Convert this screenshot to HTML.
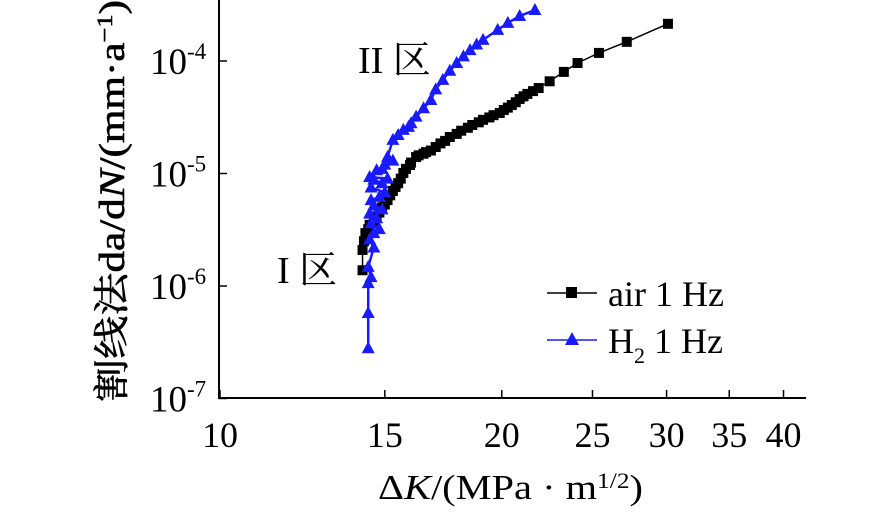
<!DOCTYPE html>
<html><head><meta charset="utf-8"><style>
html,body{margin:0;padding:0;background:#fff;}
svg text{font-family:"Liberation Serif","Noto Serif CJK SC",serif;}
</style></head><body>
<svg id="chart" width="886" height="507" viewBox="0 0 886 507" xmlns="http://www.w3.org/2000/svg">
<g id="axes"></g><g id="series"></g>
<g>
 <line x1="547" y1="293" x2="597" y2="293" stroke="#000" stroke-width="1.5"/>
 <rect x="566" y="287" width="11" height="11" fill="#000"/>
 <text x="608" y="306" font-size="36">air 1 Hz</text>
 <line x1="547" y1="340" x2="597" y2="340" stroke="#1a1aff" stroke-width="1.5"/>
 <polygon points="572,332 579,345 565,345" fill="#1a1aff"/>
 <text x="608" y="353" font-size="36">H<tspan font-size="22" dy="10">2</tspan><tspan dy="-10"> 1 Hz</tspan></text>
</g>
<text x="358" y="73" font-size="38">II 区</text>
<text x="277" y="283" font-size="38">I 区</text>
<text transform="translate(124,402) rotate(-90)" font-size="36" stroke="#000" stroke-width="0.6" textLength="402" lengthAdjust="spacingAndGlyphs">割线法da/d<tspan font-style="italic">N</tspan>/(mm·a<tspan font-size="22" dy="-12">−1</tspan><tspan dy="12">)</tspan></text>
<text x="378" y="499" font-size="35" textLength="265" lengthAdjust="spacingAndGlyphs">Δ<tspan font-style="italic">K</tspan>/(MPa · m<tspan font-size="22" dy="-11">1/2</tspan><tspan dy="11">)</tspan></text>
</svg>
<script>
const xTicks=[10,15,20,25,30,35,40];
const yTicks=[-7,-6,-5,-4];
const airK=[30.1,27.2,25.4,24.1,23.3,22.5,21.9,21.6,21.3,21.1,20.9,20.7,20.5,20.3,20.1,19.9,19.6,19.4,19.1,18.9,18.6,18.4,18.1,17.9,17.6,17.4,17.2,17.0,16.8,16.6,16.5,16.3,16.2,16.0,15.96,15.8,15.7,15.6,15.5,15.4,15.3,15.2,15.1,15.0,14.9,14.8,14.7,14.6,14.45,14.4,14.3,14.25,14.2,14.2];
const airRate=[2.14e-4,1.48e-4,1.18e-4,9.6e-5,8.0e-5,6.6e-5,5.75e-5,5.4e-5,5.1e-5,4.85e-5,4.6e-5,4.3e-5,4.06e-5,3.85e-5,3.67e-5,3.45e-5,3.3e-5,3.15e-5,3.0e-5,2.85e-5,2.7e-5,2.55e-5,2.4e-5,2.25e-5,2.11e-5,1.95e-5,1.85e-5,1.72e-5,1.6e-5,1.55e-5,1.5e-5,1.45e-5,1.4e-5,1.25e-5,1.19e-5,1.1e-5,1.01e-5,9.0e-6,8.2e-6,7.6e-6,7.0e-6,6.4e-6,5.8e-6,5.3e-6,5.0e-6,4.5e-6,4.1e-6,3.8e-6,3.5e-6,3.2e-6,2.95e-6,2.5e-6,2.09e-6,1.38e-6];
const h2K=[21.7,20.9,20.3,19.8,19.1,18.8,18.5,18.2,17.9,17.6,17.3,17.0,16.8,16.5,16.2,16.0,15.9,15.7,15.5,15.3,15.1,15.3,15.0,14.9,14.7,14.45,15.1,14.9,14.6,14.5,15.0,14.8,14.5,14.6,14.9,14.45,14.7,14.5,14.8,14.6,14.45,14.6,14.4,14.5,14.4,14.4,14.4];
const h2Rate=[2.84e-4,2.51e-4,2.18e-4,1.89e-4,1.54e-4,1.4e-4,1.25e-4,1.1e-4,9.6e-5,8.2e-5,6.8e-5,5.6e-5,4.5e-5,3.8e-5,3.2e-5,2.8e-5,2.6e-5,2.44e-5,2.2e-5,1.99e-5,1.4e-5,1.3e-5,1.2e-5,1.1e-5,1.07e-5,9.3e-6,9e-6,8.2e-6,8.8e-6,7.5e-6,6.8e-6,6.2e-6,5.8e-6,5.2e-6,4.8e-6,4.4e-6,4.0e-6,3.6e-6,3.2e-6,2.95e-6,2.6e-6,2.2e-6,1.48e-6,1.2e-6,1.06e-6,5.75e-7,2.8e-7];
const NS='http://www.w3.org/2000/svg';
const X0=220,XPD=936,Y0=61,YPD=112.5;
function sx(v){return X0+(Math.log10(v)-1)*XPD;}
function sy(v){return Y0-(Math.log10(v)+4)*YPD;}
function mk(tag,attrs,parent){const e=document.createElementNS(NS,tag);for(const k in attrs)e.setAttribute(k,attrs[k]);parent.appendChild(e);return e;}
const axes=document.getElementById('axes'),series=document.getElementById('series');
let a=mk('line',{x1:219,y1:0,x2:219,y2:398.5,stroke:'#000','stroke-width':2},axes);


a=mk('line',{x1:218,y1:398,x2:806,y2:398,stroke:'#000','stroke-width':2},axes);


xTicks.forEach(t=>{const x=sx(t);
 const l=mk('line',{x1:x,y1:398,x2:x,y2:390,stroke:'#000','stroke-width':1.5},axes);
 
 
 const tx=mk('text',{x:x,y:447,'font-size':36,'text-anchor':'middle'},axes);tx.textContent=t;
 
 });
yTicks.forEach(t=>{const y=sy(Math.pow(10,t));
 const l=mk('line',{x1:219,y1:y,x2:227,y2:y,stroke:'#000','stroke-width':1.5},axes);
 
 
 const tx=mk('text',{x:150,y:y+13,'font-size':37},axes);
 tx.innerHTML='10<tspan font-size="23" dy="-15">'+t+'</tspan>';
 
 });
function draw(K,R,color,tri,name){
 const pts=K.map((k,i)=>sx(k)+','+sy(R[i])).join(' ');
 const pl=mk('polyline',{points:pts,fill:'none',stroke:color,'stroke-width':tri?2.5:1.5},series);
 
 
 K.forEach((k,i)=>{const x=sx(k),y=sy(R[i]);let m;
  if(tri)m=mk('polygon',{points:`${x},${y-7} ${x+6.5},${y+5} ${x-6.5},${y+5}`,fill:color},series);
  else m=mk('rect',{x:x-5,y:y-5,width:10,height:10,fill:color},series);
  
  });
}
draw(airK,airRate,'#000',false,'air');
draw(h2K,h2Rate,'#1a1aff',true,'h2');
</script>
</body></html>
